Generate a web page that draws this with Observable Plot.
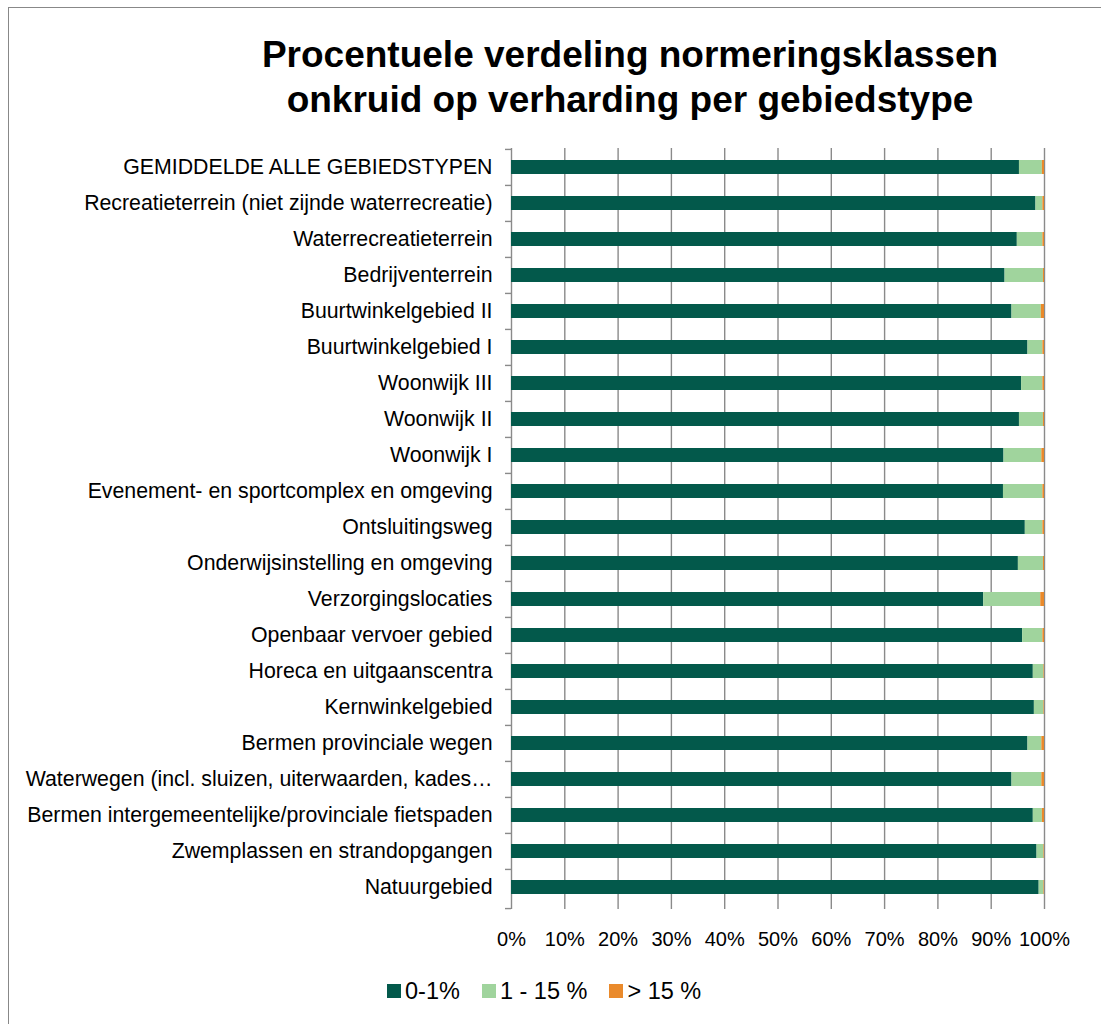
<!DOCTYPE html>
<html>
<head>
<meta charset="utf-8">
<script src="https://cdn.jsdelivr.net/npm/d3@7"></script>
<script src="https://cdn.jsdelivr.net/npm/@observablehq/plot@0.6"></script>
<style>
  html, body { margin: 0; padding: 0; background: #fff; overflow: hidden; }
  #wrap { position: relative; width: 1101px; height: 1024px; font-family: "Liberation Sans", Arial, sans-serif; color: #000; }
  #frame { position: absolute; left: 8px; top: 7px; width: 1110px; height: 1040px; border: 1.5px solid #888; box-sizing: border-box; }
  #title { position: absolute; left: 160px; width: 940px; top: 32px; text-align: center; font-weight: bold; font-size: 37px; line-height: 45px; }
  #chart { position: absolute; left: 0; top: 0; }
  #legend { position: absolute; top: 978px; left: 387px; height: 26px; font-size: 23.5px; display: flex; align-items: center; white-space: nowrap; }
  #legend .item { display: flex; align-items: center; margin-right: 22px; }
  #legend .sw { width: 14px; height: 14px; margin-right: 4px; }
</style>
</head>
<body>
<div id="wrap">
  <div id="frame"></div>
  <div id="title">Procentuele verdeling normeringsklassen<br>onkruid op verharding per gebiedstype</div>
  <div id="chart"></div>
  <div id="legend"></div>
</div>
<script>
const categories = [
  "GEMIDDELDE ALLE GEBIEDSTYPEN",
  "Recreatieterrein (niet zijnde waterrecreatie)",
  "Waterrecreatieterrein",
  "Bedrijventerrein",
  "Buurtwinkelgebied II",
  "Buurtwinkelgebied I",
  "Woonwijk III",
  "Woonwijk II",
  "Woonwijk I",
  "Evenement- en sportcomplex en omgeving",
  "Ontsluitingsweg",
  "Onderwijsinstelling en omgeving",
  "Verzorgingslocaties",
  "Openbaar vervoer gebied",
  "Horeca en uitgaanscentra",
  "Kernwinkelgebied",
  "Bermen provinciale wegen",
  "Waterwegen (incl. sluizen, uiterwaarden, kades…",
  "Bermen intergemeentelijke/provinciale fietspaden",
  "Zwemplassen en strandopgangen",
  "Natuurgebied"
];
const classes = ["0-1%", "1 - 15 %", "> 15 %"];
const colors = ["#03594b", "#a0d49d", "#ea8a2b"];
const share0to1 = [95.3, 98.4, 94.9, 92.6, 93.9, 96.9, 95.7, 95.3, 92.4, 92.3, 96.4, 95.1, 88.6, 95.9, 97.9, 98.1, 96.9, 93.9, 97.9, 98.6, 99.0];
const share1to15 = [4.3, 1.3, 4.8, 7.2, 5.5, 2.8, 4.0, 4.5, 7.1, 7.4, 3.3, 4.7, 10.7, 3.8, 2.0, 1.8, 2.6, 5.6, 1.7, 1.3, 0.9];
const shareOver15 = [0.4, 0.3, 0.3, 0.2, 0.6, 0.3, 0.3, 0.2, 0.5, 0.3, 0.3, 0.2, 0.7, 0.3, 0.1, 0.1, 0.5, 0.5, 0.4, 0.1, 0.1];
const xTicks = [0, 0.1, 0.2, 0.3, 0.4, 0.5, 0.6, 0.7, 0.8, 0.9, 1.0];

const series = [share0to1, share1to15, shareOver15];
const rows = [];
categories.forEach((c, i) => {
  classes.forEach((k, j) => rows.push({cat: c, klasse: k, v: series[j][i] / 100}));
});

const W = 1101, H = 960, mTop = 147, mBottom = 54;
const step = (H - mTop - mBottom) / categories.length;
const gridColor = "#8a8a8a";

const chart = Plot.plot({
  width: W,
  height: H,
  marginTop: mTop,
  marginBottom: mBottom,
  marginLeft: 511,
  marginRight: 57,
  style: {fontFamily: "'Liberation Sans', Arial, sans-serif", fontSize: "21px", color: "#000", background: "transparent"},
  x: {domain: [0, 1]},
  y: {domain: categories, paddingInner: 0.615, paddingOuter: 0.3075},
  color: {domain: classes, range: colors},
  marks: [
    Plot.ruleX(xTicks, {stroke: gridColor, strokeWidth: 1.4, insetTop: 1, insetBottom: -3}),
    Plot.barX(rows, {x: "v", y: "cat", fill: "klasse"}),
    Plot.axisX(xTicks, {tickFormat: d3.format(".0%"), tickSize: 0, tickPadding: 25, fontSize: 20, label: null}),
    Plot.axisY({tickSize: 0, tickPadding: 19, fontSize: 21.3, label: null}),
    Plot.axisY({tickFormat: () => "", tickSize: 6, dy: -step / 2, stroke: gridColor, strokeWidth: 1.4, label: null}),
    Plot.axisY([categories[categories.length - 1]], {tickFormat: () => "", tickSize: 6, dy: step / 2 + 3, stroke: gridColor, strokeWidth: 1.4, label: null})
  ]
});
document.getElementById("chart").appendChild(chart);

const legend = document.getElementById("legend");
classes.forEach((k, j) => {
  const it = document.createElement("div");
  it.className = "item";
  const sw = document.createElement("div");
  sw.className = "sw";
  sw.style.background = colors[j];
  const t = document.createElement("span");
  t.textContent = k;
  it.appendChild(sw); it.appendChild(t);
  legend.appendChild(it);
});
</script>
</body>
</html>
